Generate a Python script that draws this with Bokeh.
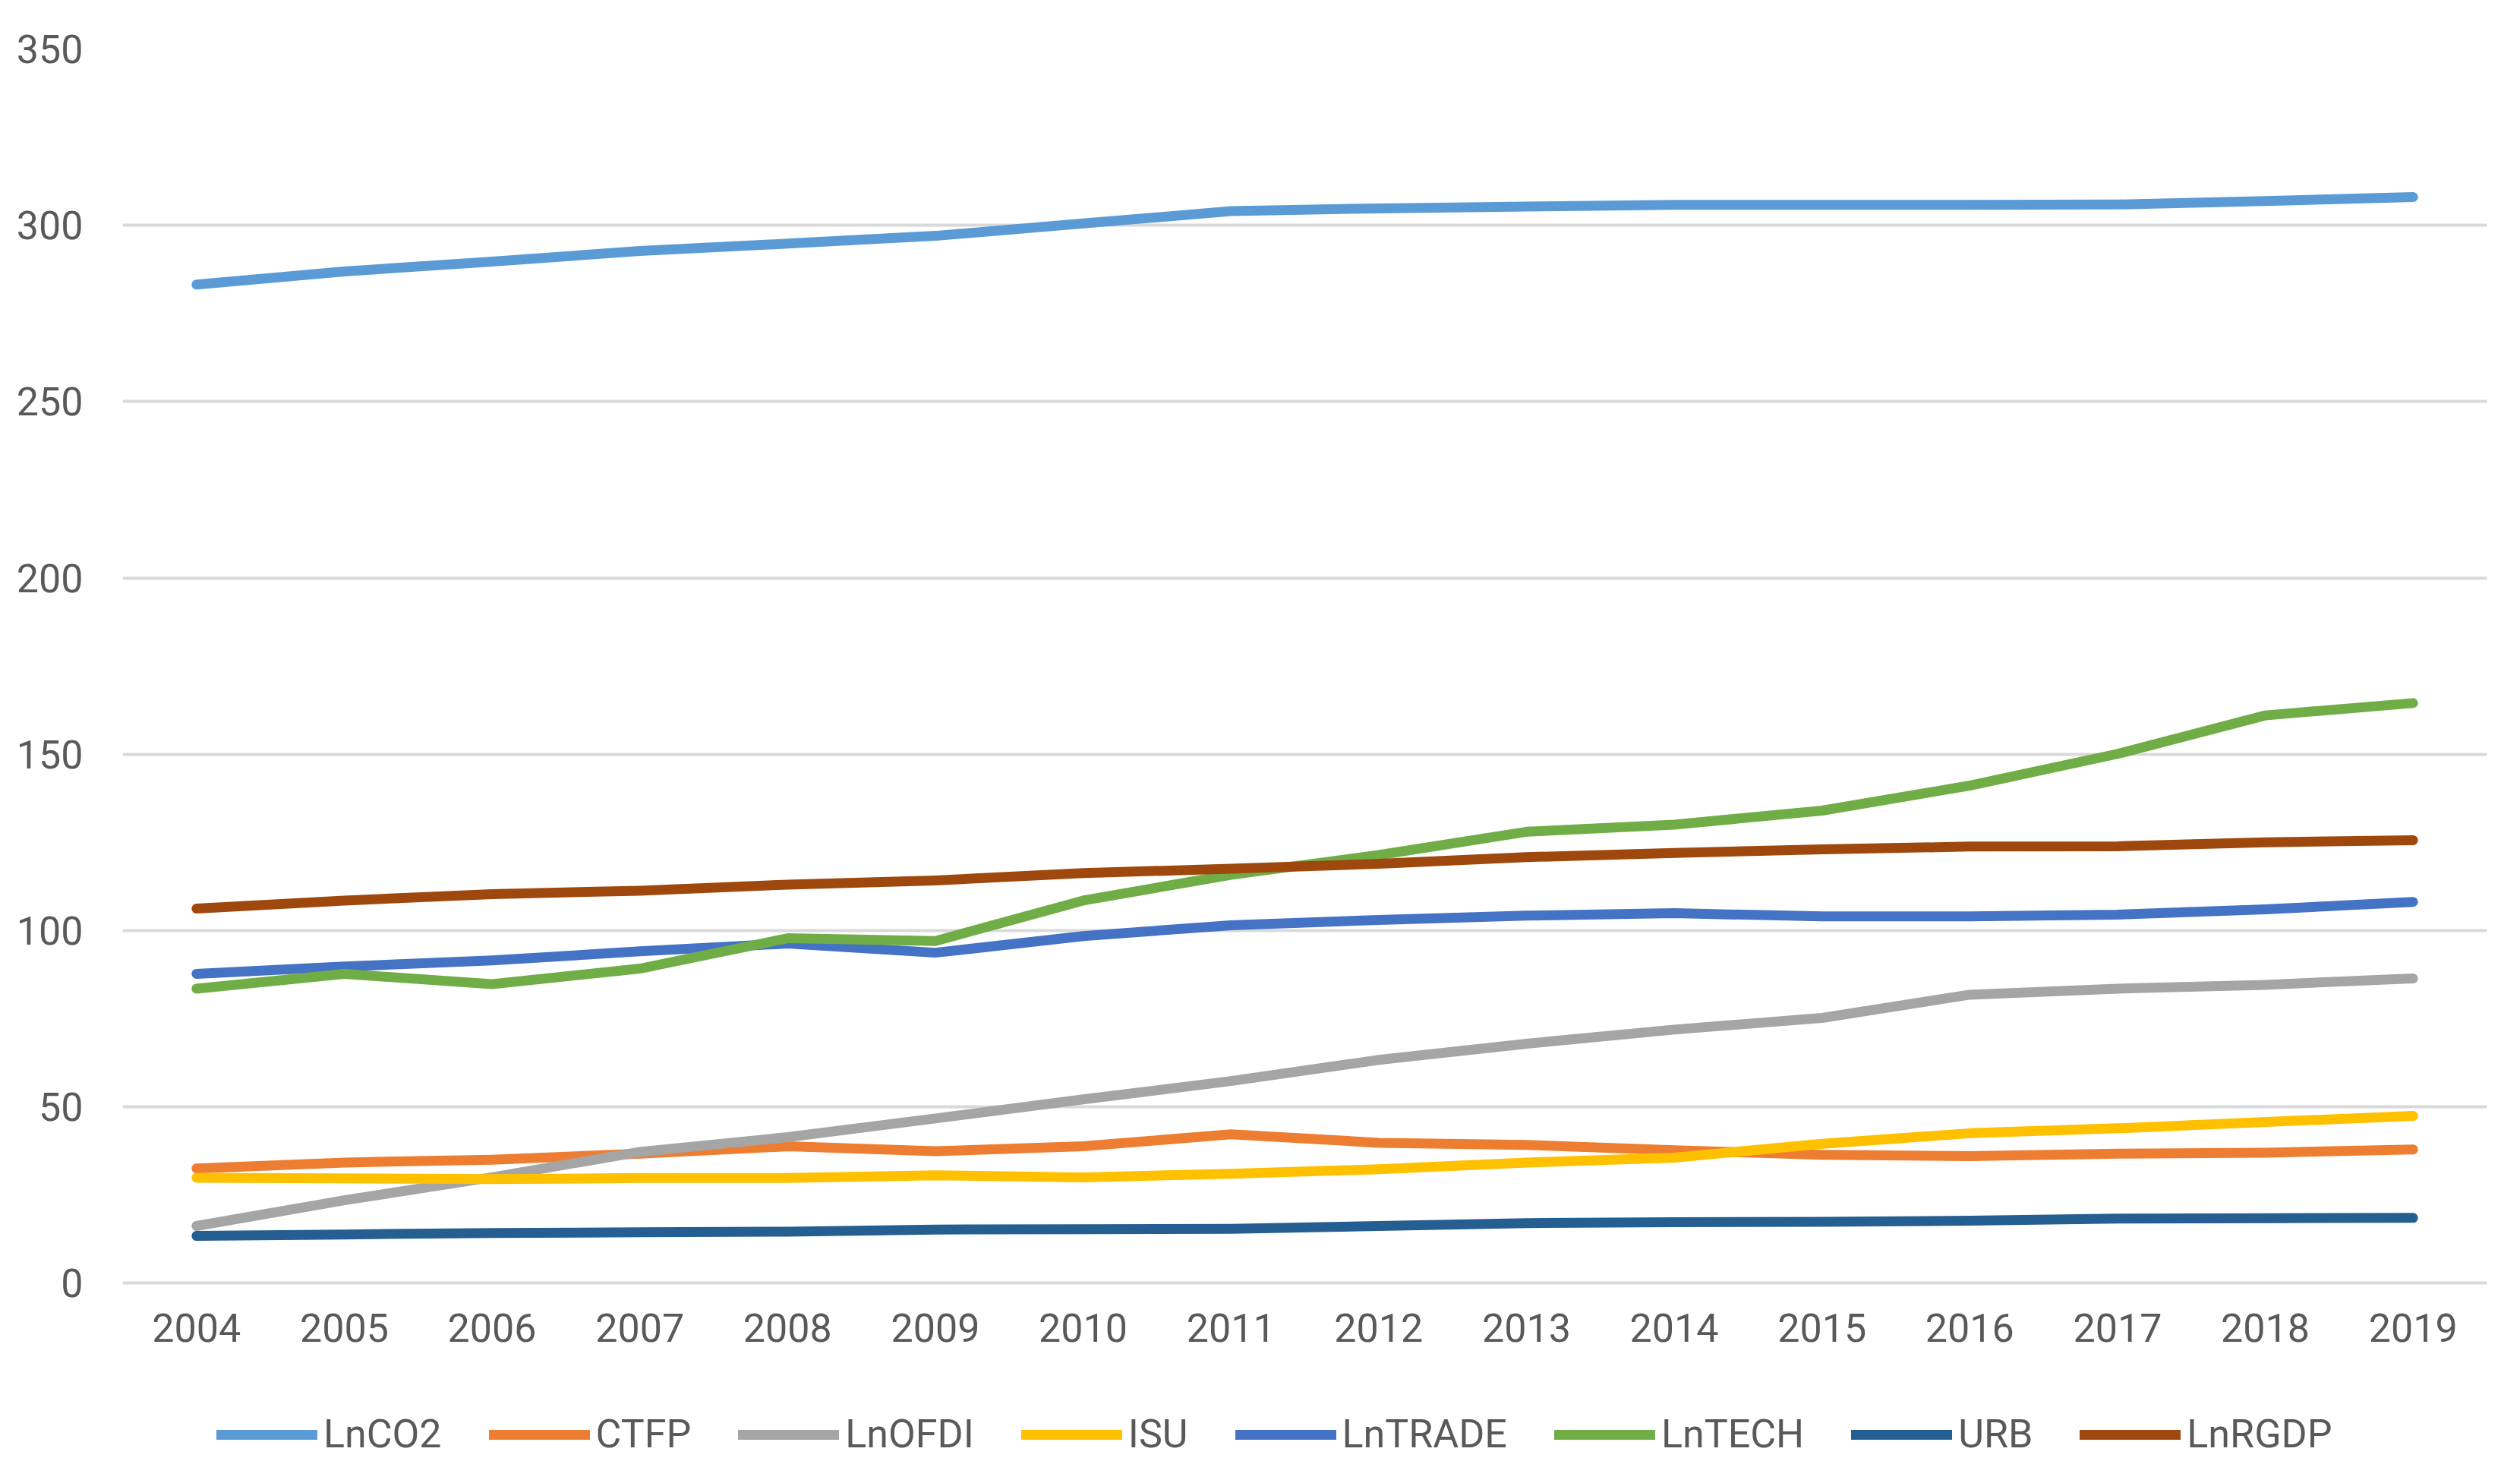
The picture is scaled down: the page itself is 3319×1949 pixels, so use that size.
from bokeh.plotting import figure
from bokeh.models import Legend, LegendItem, FixedTicker, LinearAxis
from bokeh.embed import file_html
from bokeh.resources import INLINE

years = list(range(2004, 2020))
series_names = ["LnCO2", "CTFP", "LnOFDI", "ISU", "LnTRADE", "LnTECH", "URB", "LnRGDP"]
LnCO2 = [283.2, 286.9, 289.7, 292.7, 294.8, 297.0, 300.5, 304.0, 304.8, 305.3, 305.8, 305.8, 305.8, 305.9, 306.9, 308.0]
CTFP = [32.5, 34.2, 35.0, 36.7, 38.8, 37.4, 38.8, 42.2, 39.8, 39.2, 37.7, 36.4, 36.0, 36.7, 37.0, 37.9]
LnOFDI = [16.2, 23.5, 30.0, 37.2, 41.4, 46.7, 52.1, 57.3, 63.3, 67.9, 71.9, 75.2, 81.8, 83.5, 84.6, 86.4]
ISU = [29.9, 29.7, 29.5, 29.8, 29.8, 30.6, 30.0, 31.0, 32.3, 34.2, 35.6, 39.5, 42.5, 43.9, 45.7, 47.4]
LnTRADE = [87.7, 89.8, 91.5, 94.1, 96.3, 93.7, 98.4, 101.5, 103.0, 104.2, 104.9, 104.0, 104.0, 104.5, 106.0, 108.1]
LnTECH = [83.5, 87.7, 84.8, 89.2, 97.8, 97.0, 108.5, 115.8, 121.4, 128.0, 130.0, 134.0, 141.1, 150.1, 161.0, 164.5]
URB = [13.4, 13.8, 14.2, 14.4, 14.6, 15.2, 15.3, 15.4, 16.2, 17.0, 17.3, 17.4, 17.7, 18.3, 18.4, 18.5]
LnRGDP = [106.2, 108.5, 110.3, 111.3, 113.0, 114.2, 116.3, 117.5, 118.9, 120.8, 122.0, 123.0, 123.8, 123.9, 125.0, 125.6]
y_ticks = [0, 50, 100, 150, 200, 250, 300, 350]

colors = ["#5B9BD5", "#ED7D31", "#A5A5A5", "#FFC000", "#4472C4", "#70AD47", "#255E91", "#9E480E"]
data = [LnCO2, CTFP, LnOFDI, ISU, LnTRADE, LnTECH, URB, LnRGDP]

FONT = "Roboto"
TXT = "#595959"

# frame extends below 0 so that the legend sits inside the plotting area
p = figure(width=3303, height=1933, output_backend="svg", toolbar_location=None,
           x_range=(2003.5, 2019.5), y_range=(-52.5, 350), x_axis_type=None)
p.min_border_left = 161
p.min_border_right = 28
p.min_border_top = 64
p.min_border_bottom = 0
p.outline_line_color = None
p.background_fill_color = "white"
p.border_fill_color = "white"

xaxis = LinearAxis(ticker=FixedTicker(ticks=years), fixed_location=0)
p.add_layout(xaxis, "below")
p.yaxis.ticker = FixedTicker(ticks=y_ticks)
p.ygrid.grid_line_color = "#D9D9D9"
p.ygrid.grid_line_width = 4

for ax in (xaxis, p.yaxis[0]):
    ax.axis_line_color = None
    ax.major_tick_line_color = None
    ax.minor_tick_line_color = None
    ax.major_tick_out = 0
    ax.major_tick_in = 0
    ax.major_label_text_font = FONT
    ax.major_label_text_font_size = "52px"
    ax.major_label_text_color = TXT
p.yaxis.major_label_standoff = 52
xaxis.major_label_standoff = 40

items = []
for name, vals, c in zip(series_names, data, colors):
    r = p.line(years, vals, line_color=c, line_width=13, line_cap="round", line_join="round")
    items.append(LegendItem(label=name, renderers=[r]))

legend = Legend(items=items, orientation="horizontal", location=(124, 14),
                glyph_width=133, glyph_height=52, label_height=52, label_standoff=8,
                spacing=62, padding=0, margin=0, border_line_color=None,
                background_fill_alpha=0, label_text_font=FONT,
                label_text_font_size="52px", label_text_color=TXT)
p.add_layout(legend)

open("out.html", "w").write(file_html(p, INLINE))
